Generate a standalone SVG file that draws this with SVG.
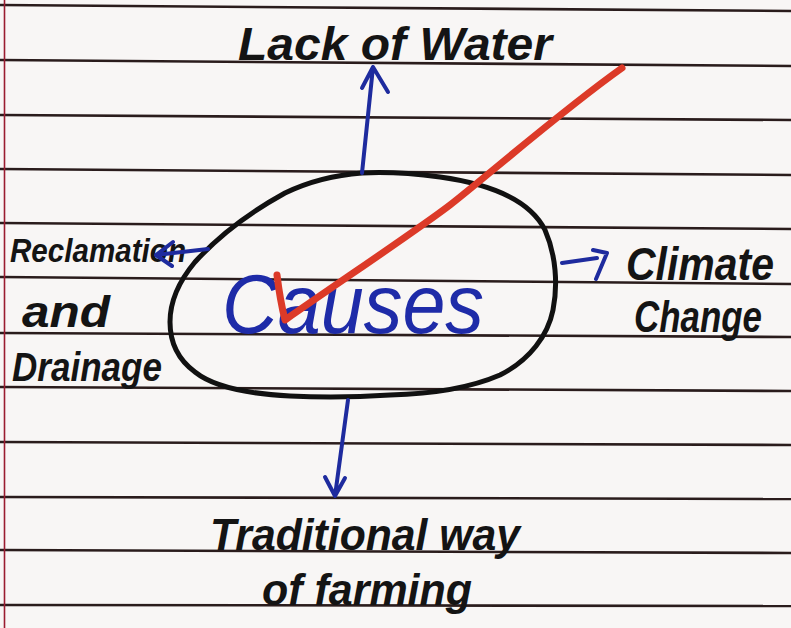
<svg xmlns="http://www.w3.org/2000/svg" width="791" height="628" viewBox="0 0 791 628">
<defs>
<style>
.rule{stroke:#2a1c1c;stroke-width:2.6;fill:none}
.label{font-family:"Liberation Sans",Arial,sans-serif;font-style:italic;font-weight:bold;fill:#141414}
.blue{stroke:#1e2b9e;stroke-width:4;fill:none;stroke-linecap:round;stroke-linejoin:round}
</style>
</defs>
<rect x="0" y="0" width="791" height="628" fill="#f8f6f5"/>
<g id="paper">
<line class="rule" x1="0" y1="5" x2="791" y2="11"/>
<line class="rule" x1="0" y1="60" x2="791" y2="66"/>
<line class="rule" x1="0" y1="115" x2="791" y2="120"/>
<line class="rule" x1="0" y1="169" x2="791" y2="175"/>
<line class="rule" x1="0" y1="223" x2="791" y2="229"/>
<line class="rule" x1="0" y1="277" x2="791" y2="284"/>
<line class="rule" x1="0" y1="333" x2="791" y2="337"/>
<line class="rule" x1="0" y1="387" x2="791" y2="391"/>
<line class="rule" x1="0" y1="442" x2="791" y2="445"/>
<line class="rule" x1="0" y1="497" x2="791" y2="499"/>
<line class="rule" x1="0" y1="550" x2="791" y2="553"/>
<line class="rule" x1="0" y1="605" x2="791" y2="606"/>
<line x1="4.5" y1="0" x2="4.5" y2="628" stroke="#9a1c30" stroke-width="1.6"/>
</g>
<g id="causes">
<path d="M362,173 C380,172 410,173 440,177 C490,184 530,200 545,230 C556,255 558,285 553,310 C548,335 530,360 500,375 C470,388 430,394 390,395 C360,397 330,398 290,396 C250,394 215,388 195,372 C176,358 170,340 170,322 C170,300 180,280 195,262 C215,240 245,215 285,193 C310,181 335,175 362,173 Z" fill="none" stroke="#111" stroke-width="5"/>
<text x="222" y="333" font-family="'Liberation Sans',Arial,sans-serif" font-style="italic" font-size="84" fill="#1e2ba8" textLength="262" lengthAdjust="spacingAndGlyphs">Causes</text>
</g>
<g id="lack-of-water"><text class="label" x="238" y="60" font-size="46" textLength="314" lengthAdjust="spacingAndGlyphs">Lack of Water</text></g>
<g id="reclamation"><text class="label" x="10" y="262" font-size="34" textLength="176" lengthAdjust="spacingAndGlyphs">Reclamation</text>
<text class="label" x="22" y="327" font-size="44" textLength="88" lengthAdjust="spacingAndGlyphs">and</text>
<text class="label" x="12" y="381" font-size="40" textLength="150" lengthAdjust="spacingAndGlyphs">Drainage</text></g>
<g id="climate-change"><text class="label" x="626" y="280" font-size="46" textLength="148" lengthAdjust="spacingAndGlyphs">Climate</text>
<text class="label" x="634" y="332" font-size="44" textLength="128" lengthAdjust="spacingAndGlyphs">Change</text></g>
<g id="traditional"><text class="label" x="210" y="550" font-size="44" textLength="310" lengthAdjust="spacingAndGlyphs">Traditional way</text>
<text class="label" x="262" y="605" font-size="44" textLength="210" lengthAdjust="spacingAndGlyphs">of farming</text></g>
<g id="connectors">
<path class="blue" d="M362,173 L373,67 M362,88 L373,67 L388,92"/>
<path class="blue" d="M208,249 L156,255 M173,242 L156,255 L172,266"/>
<path class="blue" d="M562,263 L597,258 M593,250 L607,253 L596,279"/>
<path class="blue" d="M348,400 L335,496 M325,477 L335,496 L345,478"/>
</g>
<path id="check" d="M277,275 Q280,300 285,320 C360,268 420,228 450,205 S560,112 622,68" fill="none" stroke="#dc3a28" stroke-width="7" stroke-linecap="round" stroke-linejoin="round"/>
</svg>
